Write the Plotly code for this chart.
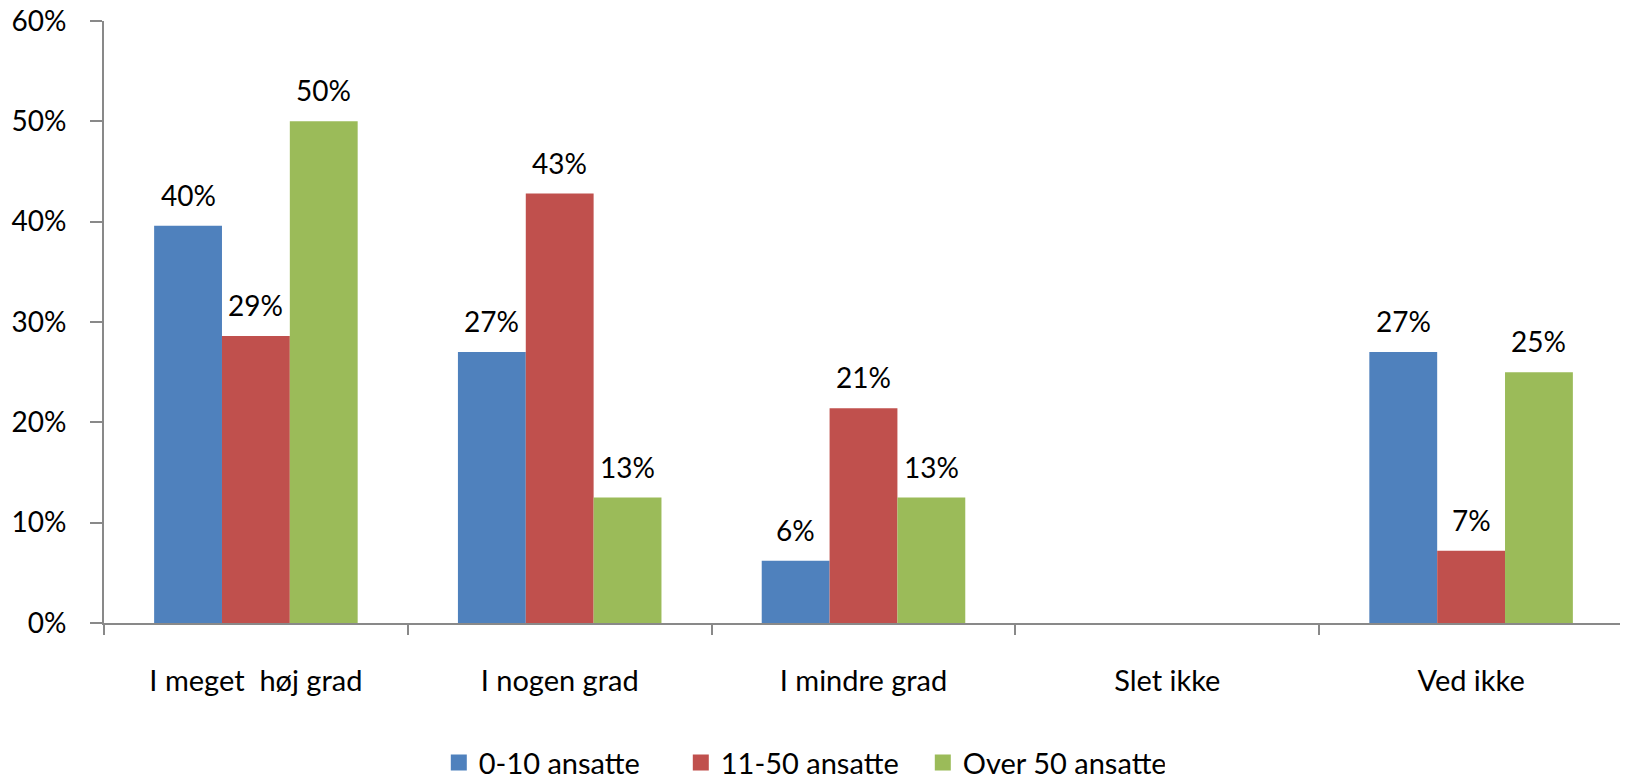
import plotly.graph_objects as go

categories = ["I meget  høj grad", "I nogen grad", "I mindre grad", "Slet ikke", "Ved ikke"]
series_names = ["0-10 ansatte", "11-50 ansatte", "Over 50 ansatte"]
vals_0_10 = [0.396, 0.27, 0.062, 0.0, 0.27]
vals_11_50 = [0.286, 0.428, 0.214, 0.0, 0.072]
vals_over_50 = [0.50, 0.125, 0.125, 0.0, 0.25]
colors = ["#4F81BD", "#C0504D", "#9BBB59"]
y_ticks = [0, 0.1, 0.2, 0.3, 0.4, 0.5, 0.6]

FONT = "Lato"
BARGAP = 0.33

series = [vals_0_10, vals_11_50, vals_over_50]

def label(v):
    return f"{int(v * 100 + 0.5)}%" if v > 0 else ""

fig = go.Figure()
for name, vals, col in zip(series_names, series, colors):
    fig.add_trace(go.Bar(x=categories, y=vals, name=name, marker_color=col,
                         marker_line_width=0, showlegend=False))
# legend entries
for name, col in zip(series_names, colors):
    fig.add_trace(go.Scatter(x=[None], y=[None], mode="markers", name=name,
                             marker=dict(symbol="square", size=18, color=col)))

# data labels
bw = (1 - BARGAP) / len(series)
annotations = []
for k, vals in enumerate(series):
    for i, v in enumerate(vals):
        if v > 0:
            annotations.append(dict(x=i + (k - 1) * bw, y=v, xref="x", yref="y",
                                    text=label(v), showarrow=False, yanchor="bottom",
                                    yshift=12, font=dict(family=FONT, size=28, color="black")))

fig.update_layout(
    width=1620, height=774,
    paper_bgcolor="white", plot_bgcolor="white",
    margin=dict(l=96, r=5, t=13, b=159, autoexpand=False),
    barmode="group", bargap=BARGAP, bargroupgap=0,
    font=dict(family=FONT, color="black"),
    annotations=annotations,
    showlegend=True,
    legend=dict(orientation="h", xref="container", yref="paper",
                x=0.49, xanchor="center", y=-0.232, yanchor="middle",
                font=dict(family=FONT, size=29, color="black"),
                entrywidth=197, entrywidthmode="pixels"),
)
fig.update_xaxes(showline=True, linecolor="#898989", linewidth=2,
                 ticks="outside", tickson="boundaries", ticklen=10, tickwidth=2,
                 tickcolor="#898989", showgrid=False, zeroline=False, automargin=False,
                 tickfont=dict(family=FONT, size=29, color="black"),
                 ticklabelstandoff=31)
fig.update_yaxes(range=[0, 0.6], tickvals=y_ticks, tickformat=".0%",
                 showline=True, linecolor="#898989", linewidth=2,
                 ticks="outside", ticklen=12, tickwidth=2, tickcolor="#898989",
                 showgrid=False, zeroline=False, automargin=False,
                 ticklabeloverflow="allow",
                 tickfont=dict(family=FONT, size=28, color="black"),
                 ticklabelstandoff=18)

fig.write_html("out.html")
